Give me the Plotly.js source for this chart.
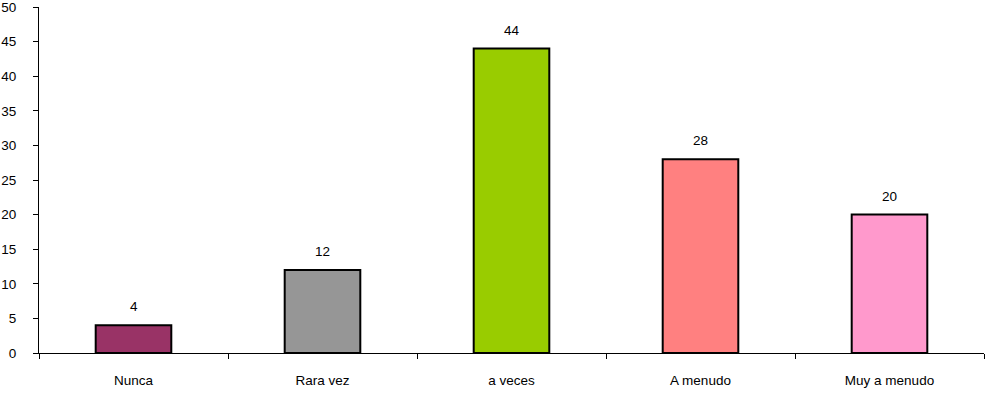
<!DOCTYPE html>
<html>
<head>
<meta charset="utf-8">
<script src="https://cdn.plot.ly/plotly-3.0.1.min.js"></script>
<style>html,body{margin:0;padding:0;background:#fff;}#chart{width:985px;height:394px;}</style>
</head>
<body>
<div id="chart"></div>
<script>
const categories = ["Nunca", "Rara vez", "a veces", "A menudo", "Muy a menudo"];
const values = [4, 12, 44, 28, 20];
const colors = ["#993366", "#969696", "#99CC00", "#FF8080", "#FF99CC"];

const FONT = "Liberation Sans, Arial, sans-serif";
const FS = 13.5;

const trace = {
  type: "bar",
  x: categories,
  y: values,
  width: 0.4,
  marker: { color: colors, line: { color: "#000", width: 2 } },
  hoverinfo: "none"
};

const annotations = categories.map((c, i) => ({
  x: c, y: values[i], xref: "x", yref: "y",
  text: String(values[i]), showarrow: false,
  yanchor: "bottom", yshift: 9,
  font: { family: FONT, size: FS, color: "#000" }
}));

const layout = {
  width: 985, height: 394,
  margin: { l: 39, r: 1, t: 7, b: 41 },
  paper_bgcolor: "#fff", plot_bgcolor: "#fff",
  font: { family: FONT, size: FS, color: "#000" },
  showlegend: false,
  xaxis: {
    type: "category",
    showline: true, linecolor: "#000", linewidth: 1,
    ticks: "outside", ticklen: 5, tickcolor: "#000",
    tickson: "boundaries",
    ticklabelstandoff: 15,
    ticklabeloverflow: "allow",
    showgrid: false, zeroline: false,
    range: [-0.5, 4.5]
  },
  yaxis: {
    range: [0, 50], dtick: 5,
    showline: true, linecolor: "#000", linewidth: 1,
    ticks: "outside", ticklen: 5, tickcolor: "#000",
    showgrid: false, zeroline: false,
    ticklabelstandoff: 14,
    ticklabeloverflow: "allow"
  },
  annotations: annotations
};

Plotly.newPlot("chart", [trace], layout, { displayModeBar: false, staticPlot: true });
</script>
</body>
</html>
